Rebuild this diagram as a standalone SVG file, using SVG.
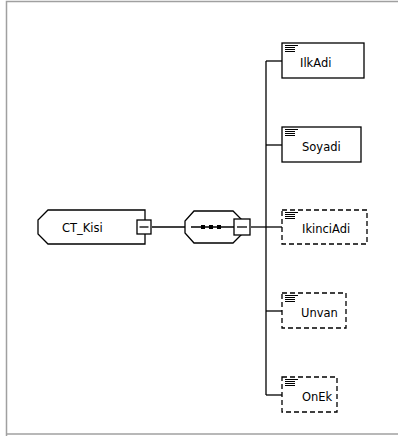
<svg xmlns="http://www.w3.org/2000/svg" width="398" height="436" viewBox="0 0 398 436">
<defs>
<style>
.ln{fill:none;stroke:#000;stroke-width:1.3}
.box{fill:#fff;stroke:#000;stroke-width:1.3}
.opt{fill:#fff;stroke:#000;stroke-width:1.3;stroke-dasharray:5,3}
.ic{stroke:#000;stroke-width:1}
.t{font-family:"DejaVu Sans","Liberation Sans",Arial,sans-serif;font-size:11.5px;fill:#000}
</style>
<g id="icon">
<line class="ic" x1="0" y1="0.5" x2="13" y2="0.5"/>
<line class="ic" x1="0" y1="2.5" x2="10" y2="2.5"/>
<line class="ic" x1="0" y1="4.5" x2="10" y2="4.5"/>
<line class="ic" x1="0" y1="6.5" x2="10" y2="6.5"/>
</g>
</defs>
<rect x="0" y="0" width="398" height="436" fill="#fff"/>
<path d="M6.5,436 V1.5 H398" fill="none" stroke="#a0a0a0" stroke-width="1.5"/>
<path d="M6,434 H398" fill="none" stroke="#a0a0a0" stroke-width="1.5"/>
<g id="connectors">
<line class="ln" x1="152" y1="227" x2="185" y2="227"/>
<line class="ln" x1="251" y1="227" x2="266" y2="227"/>
<line class="ln" x1="266" y1="61" x2="266" y2="395"/>
<line class="ln" x1="266" y1="61" x2="282" y2="61"/>
<line class="ln" x1="266" y1="145" x2="282" y2="145"/>
<line class="ln" x1="266" y1="227" x2="282" y2="227"/>
<line class="ln" x1="266" y1="311" x2="282" y2="311"/>
<line class="ln" x1="266" y1="395" x2="282" y2="395"/>
</g>
<g id="CT_Kisi">
<path class="box" d="M48,210 H145 V244 H48 L38,234 V220 Z"/>
<text class="t" x="62" y="232">CT_Kisi</text>
<rect class="box" x="137" y="220" width="14" height="14"/>
<line class="ln" x1="139.5" y1="227" x2="148.5" y2="227"/>
</g>
<g id="sequence">
<path class="box" d="M194,211 H233 L243,221 V233 L233,243 H194 L185,233 V221 Z"/>
<line class="ln" x1="191" y1="227" x2="234" y2="227"/>
<rect x="201" y="225" width="4" height="4" fill="#000"/>
<rect x="209" y="225" width="4" height="4" fill="#000"/>
<rect x="217" y="225" width="4" height="4" fill="#000"/>
<rect class="box" x="234" y="219" width="16" height="16"/>
<line class="ln" x1="237" y1="227" x2="247" y2="227"/>
</g>
<g id="IlkAdi">
<rect class="box" x="282" y="43" width="82" height="35"/>
<use href="#icon" x="285" y="45"/>
<text class="t" x="300" y="67">IlkAdi</text>
</g>
<g id="Soyadi">
<rect class="box" x="282" y="127" width="79" height="35"/>
<use href="#icon" x="285" y="129"/>
<text class="t" x="302" y="151">Soyadi</text>
</g>
<g id="IkinciAdi">
<rect class="opt" x="282" y="210" width="85" height="34"/>
<use href="#icon" x="285" y="212"/>
<text class="t" x="302" y="233">IkinciAdi</text>
</g>
<g id="Unvan">
<rect class="opt" x="282" y="293" width="64" height="35"/>
<use href="#icon" x="285" y="295"/>
<text class="t" x="301" y="317">Unvan</text>
</g>
<g id="OnEk">
<rect class="opt" x="282" y="377" width="55" height="35"/>
<use href="#icon" x="285" y="379"/>
<text class="t" x="302" y="401">OnEk</text>
</g>
</svg>
